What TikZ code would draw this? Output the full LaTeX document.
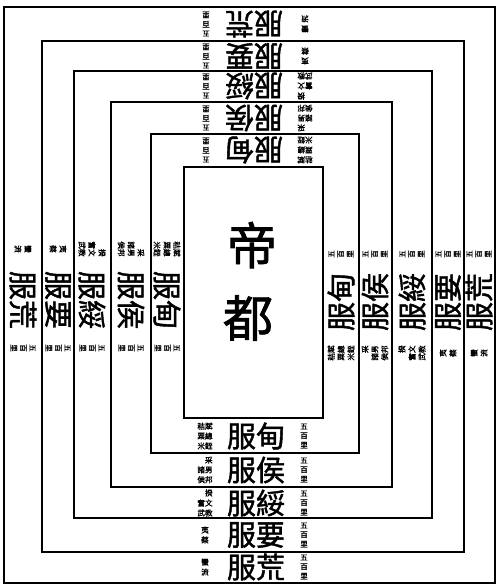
\documentclass[tikz,border=0pt]{standalone}
\usepackage{fontspec}
\newfontfamily\cjk{Noto Sans CJK TC}
\newfontfamily\cjkb[FakeBold=1.5]{Noto Sans CJK TC}
\tikzset{
  frame/.style={draw=black,line width=1.4pt},
  bigchar/.style={font=\cjkb\fontsize{29}{29}\selectfont,inner sep=0pt,transform shape},
  note/.style={font=\cjkb\fontsize{7.6}{7.8}\selectfont,inner sep=0pt,align=center,transform shape},
  capital/.style={font=\cjkb\fontsize{50}{50}\selectfont,inner sep=0pt}
}
\newcommand\zoneband[6]{% name, x, y, angle, char, description
  \begin{scope}[shift={(#2,#3)},rotate=#4]
    \node[bigchar] (#1) at (0,0) {服#5};
    \node[note] (#1-d) at (-51,0) {#6};
    \node[note] (#1-l) at (48,0) {\shortstack{五\\百\\里}};
  \end{scope}}
\begin{document}
\begin{tikzpicture}[x=1pt,y=-1pt]
\useasboundingbox (0,0) rectangle (500,588);
\fill[white] (0,0) rectangle (500,588);
% nested frames
\draw[frame] (4,7) rectangle (495,583);
\draw[frame] (42,41) rectangle (464,552);
\draw[frame] (74,71) rectangle (432,518);
\draw[frame] (111,102) rectangle (392,487);
\draw[frame] (151,134) rectangle (359,453);
\draw[frame] (184,167) rectangle (323,418);
% capital
\node[capital] (di) at (252,245) {帝};
\node[capital] (du) at (248,318) {都};
% bottom bands (upright)
\zoneband{bd}{256}{436}{0}{甸}{\shortstack{秸\\粟\\米}\shortstack{賦\\總\\銍}}
\zoneband{bh}{256}{470}{0}{侯}{\shortstack{諸\\侯}\shortstack{采\\男\\邦}}
\zoneband{bs}{256}{503}{0}{綏}{\shortstack{奮\\武}\shortstack{揆\\文\\教}}
\zoneband{by}{256}{535}{0}{要}{\shortstack{夷\\蔡}}
\zoneband{bx}{256}{567}{0}{荒}{\shortstack{蠻\\流}}
% top bands (upside down)
\zoneband{td}{254}{150}{180}{甸}{\shortstack{秸\\粟\\米}\shortstack{賦\\總\\銍}}
\zoneband{th}{254}{118}{180}{侯}{\shortstack{諸\\侯}\shortstack{采\\男\\邦}}
\zoneband{ts}{254}{86}{180}{綏}{\shortstack{奮\\武}\shortstack{揆\\文\\教}}
\zoneband{ty}{254}{56}{180}{要}{\shortstack{夷\\蔡}}
\zoneband{tx}{254}{24}{180}{荒}{\shortstack{蠻\\流}}
% left bands
\zoneband{ld}{167}{300}{-90}{甸}{\shortstack{秸\\粟\\米}\shortstack{賦\\總\\銍}}
\zoneband{lh}{131}{300}{-90}{侯}{\shortstack{諸\\侯}\shortstack{采\\男\\邦}}
\zoneband{ls}{92}{300}{-90}{綏}{\shortstack{奮\\武}\shortstack{揆\\文\\教}}
\zoneband{ly}{58}{300}{-90}{要}{\shortstack{夷\\蔡}}
\zoneband{lx}{23}{300}{-90}{荒}{\shortstack{蠻\\流}}
% right bands
\zoneband{rd}{341}{302}{90}{甸}{\shortstack{秸\\粟\\米}\shortstack{賦\\總\\銍}}
\zoneband{rh}{375}{302}{90}{侯}{\shortstack{諸\\侯}\shortstack{采\\男\\邦}}
\zoneband{rs}{412}{302}{90}{綏}{\shortstack{奮\\武}\shortstack{揆\\文\\教}}
\zoneband{ry}{448}{302}{90}{要}{\shortstack{夷\\蔡}}
\zoneband{rx}{479}{302}{90}{荒}{\shortstack{蠻\\流}}
\end{tikzpicture}
\end{document}
